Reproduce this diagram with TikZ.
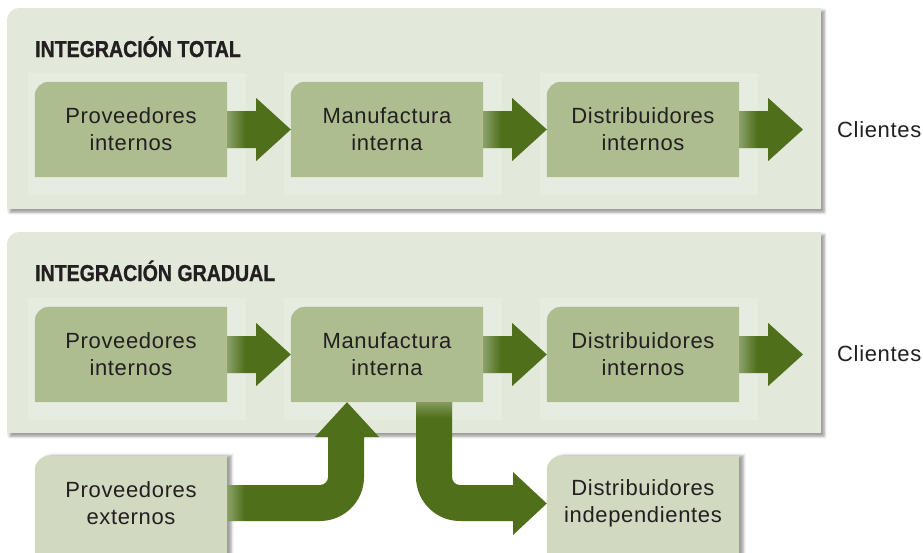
\documentclass[tikz,border=0pt]{standalone}
\usepackage{fontspec}
\setmainfont{Liberation Sans}[LetterSpace=3]
\newfontfamily\titlefont[FakeStretch=0.85, BoldFeatures={FakeBold=1.2}]{Liberation Sans}
\usetikzlibrary{backgrounds,fadings,shadows.blur,calc}
\definecolor{panelc}{HTML}{E2E8DA}
\definecolor{glowc}{HTML}{E7ECE1}
\definecolor{boxc}{HTML}{ADBD8F}
\definecolor{extc}{HTML}{D1D9C0}
\definecolor{arrowc}{HTML}{4F6F1A}
\definecolor{textc}{HTML}{231F20}
\newcommand\boxfillpath[2]{\fill[#2] (#1.south west) -- ([yshift=-14pt]#1.north west) arc[start angle=180,end angle=90,radius=14pt] -- (#1.north east) -- (#1.south east) -- cycle;}
\newcommand\glowpath[1]{\fill[glowc] ($(#1.north west)+(-7,-9)$) rectangle ($(#1.south east)+(19,18)$);}
\newcommand\flowarrow[2]{%
  \fill[arrowc] ($(#1.east)+(0,-18.5)$) -- ($(#1.east)+(29,-18.5)$) -- ($(#1.east)+(29,-31.5)$) -- (#2) -- ($(#1.east)+(29,31.5)$) -- ($(#1.east)+(29,18.5)$) -- ($(#1.east)+(0,18.5)$) -- cycle;
  \fill[white, opacity=0.35, path fading=east] ($(#1.east)+(0,-18.5)$) rectangle ($(#1.east)+(18,18.5)$);}
\begin{document}
\begin{tikzpicture}[x=1pt,y=-1pt,
  box/.style={minimum width=192pt, minimum height=95pt, inner sep=0pt, align=center, text=textc, font=\fontsize{22}{27}\selectfont},
  titlelbl/.style={anchor=base west, inner sep=0pt, text=textc, font=\titlefont\bfseries\fontsize{23}{26}\selectfont},
  clientlbl/.style={anchor=west, inner sep=0pt, text=textc, font=\fontsize{22}{27}\selectfont},
  panelshadow/.style={blur shadow={shadow xshift=3pt, shadow yshift=-3pt, shadow blur radius=3pt, shadow opacity=45}}]
\clip (0,0) rectangle (923,552);
\useasboundingbox (0,0) rectangle (923,552);

% titles
\node[titlelbl] (title1) at (35,57) {INTEGRACIÓN TOTAL};
\node[titlelbl] (title2) at (35,281) {INTEGRACIÓN GRADUAL};

% panel 1 boxes
\node[box] (pi1) at (131,129.5) {Proveedores\\internos};
\node[box] (mi1) at (387,129.5) {Manufactura\\interna};
\node[box] (di1) at (643,129.5) {Distribuidores\\internos};
\node[clientlbl] (cl1) at (837,130) {Clientes};
\coordinate (tip1) at (803,129.5);

% panel 2 boxes
\node[box] (pi2) at (131,354.5) {Proveedores\\internos};
\node[box] (mi2) at (387,354.5) {Manufactura\\interna};
\node[box] (di2) at (643,354.5) {Distribuidores\\internos};
\node[clientlbl] (cl2) at (837,354) {Clientes};
\coordinate (tip2) at (803,354.5);

% lower boxes
\node[box] (pe) at (131,503.5) {Proveedores\\externos};
\node[box] (dind) at (643,503.5) {Distribuidores\\independientes};

\begin{scope}[on background layer]
  % panels
  \fill[panelc, panelshadow] (7,209) -- (7,20) arc[start angle=180,end angle=90,radius=12pt] -- (821,8) -- (821,209) -- cycle;
  \fill[panelc, panelshadow] (7,433) -- (7,244) arc[start angle=180,end angle=90,radius=12pt] -- (821,232) -- (821,433) -- cycle;
  % glows
  \foreach \n in {pi1,mi1,di1,pi2,mi2,di2} {\glowpath{\n}}
  % box fills
  \foreach \n in {pi1,mi1,di1,pi2,mi2,di2} {\boxfillpath{\n}{boxc}}
  % lower boxes
  \fill[extc, blur shadow={shadow xshift=4pt, shadow yshift=0pt, shadow blur radius=3pt, shadow opacity=40}] ([yshift=-8pt]pe.south west) -- ([yshift=-14pt]pe.north west) arc[start angle=180,end angle=90,radius=14pt] -- (pe.north east) -- ([yshift=-8pt]pe.south east) -- cycle;
  \fill[extc, blur shadow={shadow xshift=4pt, shadow yshift=0pt, shadow blur radius=3pt, shadow opacity=40}] ([yshift=-8pt]dind.south west) -- ([yshift=-14pt]dind.north west) arc[start angle=180,end angle=90,radius=14pt] -- (dind.north east) -- ([yshift=-8pt]dind.south east) -- cycle;
\end{scope}

% straight arrows
\flowarrow{pi1}{mi1.west}
\flowarrow{mi1}{di1.west}
\flowarrow{di1}{tip1}
\flowarrow{pi2}{mi2.west}
\flowarrow{mi2}{di2.west}
\flowarrow{di2}{tip2}

% elbow arrow: external suppliers up into manufacturing
\fill[arrowc] (pe.east |- 0,485) -- (320,485) arc[start angle=-90,end angle=0,radius=8pt] -- (328,437) -- (315,437) -- ([xshift=-40pt]mi2.south) -- (379,437) -- (364,437) -- (364,477) arc[start angle=0,end angle=-90,radius=44pt] -- (pe.east |- 0,521) -- cycle;
\fill[white, opacity=0.35, path fading=east] (pe.east |- 0,485) rectangle (245,521);

% elbow arrow: manufacturing down to independent distributors
\fill[arrowc] ([xshift=29pt]mi2.south) -- (416,477) arc[start angle=180,end angle=270,radius=44pt] -- (513,521) -- (513,535) -- (dind.west) -- (513,472) -- (513,485) -- (460,485) arc[start angle=270,end angle=180,radius=8pt] -- ([xshift=65pt]mi2.south) -- cycle;
\fill[white, opacity=0.3, path fading=south] ([xshift=29pt]mi2.south) rectangle (452,418);
\end{tikzpicture}
\end{document}
